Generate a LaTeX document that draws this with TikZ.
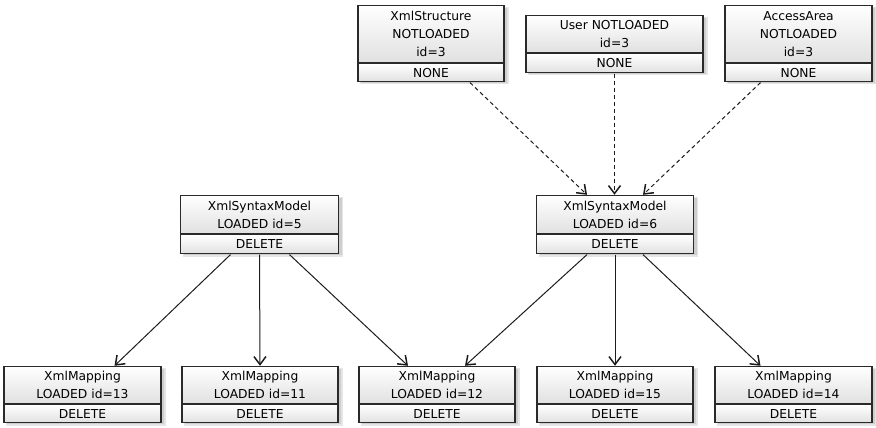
\documentclass[tikz,border=0pt]{standalone}
\usepackage{fontspec}
\setmainfont{DejaVu Sans}
\usetikzlibrary{arrows.meta,fit}
\definecolor{edge}{HTML}{2A2A2A}
\definecolor{wire}{HTML}{1C1C1C}
\tikzset{
  comp/.style={rectangle, draw=edge, line width=1.2pt, top color=white, bottom color=black!12,
    inner sep=0pt, align=center, anchor=north, font=\fontsize{12.3}{18}\selectfont},
  shade1/.style={fill=black, opacity=0.10},
  rel/.style={draw=wire, line width=1pt, -{Straight Barb[length=8pt,width=12pt,line width=1.5pt]}},
  dep/.style={rel, dash pattern=on 4pt off 3pt},
}
% \umlbox{name}{cx}{top}{width}{upper h}{lower h}{upper text}{lower text}
\newcommand{\umlbox}[8]{%
  \fill[shade1] (#2-#4/2+3,#3+3) rectangle (#2+#4/2+3,#3+#5+#6+3);
  \fill[shade1] (#2-#4/2+2,#3+2) rectangle (#2+#4/2+4.5,#3+#5+#6+4.5);
  \node[comp, minimum width=#4pt, minimum height=#5pt] (#1-u) at (#2,#3) {#7};
  \node[comp, minimum width=#4pt, minimum height=#6pt] (#1-l) at (#1-u.south) {#8};
  \node[fit=(#1-u)(#1-l), inner sep=0pt, rectangle] (#1) {};
}
\begin{document}
\begin{tikzpicture}[x=1pt,y=-1pt]
\useasboundingbox (0,0) rectangle (876,428);
% top row
\umlbox{xs}{431}{5}{146}{57}{18}{XmlStructure\\NOTLOADED\\id=3}{NONE}
\umlbox{us}{614.5}{15}{177}{37}{19}{User NOTLOADED\\id=3}{NONE}
\umlbox{aa}{798.5}{5}{147}{57}{18}{AccessArea\\NOTLOADED\\id=3}{NONE}
% middle row
\umlbox{m5}{259.5}{195}{158}{38}{19}{XmlSyntaxModel\\LOADED id=5}{DELETE}
\umlbox{m6}{615}{195}{157}{38}{19}{XmlSyntaxModel\\LOADED id=6}{DELETE}
% bottom row
\umlbox{b13}{82.5}{366}{157}{37}{18}{XmlMapping\\LOADED id=13}{DELETE}
\umlbox{b11}{260}{366}{156}{37}{18}{XmlMapping\\LOADED id=11}{DELETE}
\umlbox{b12}{437}{366}{156}{37}{18}{XmlMapping\\LOADED id=12}{DELETE}
\umlbox{b15}{615}{366}{156}{37}{18}{XmlMapping\\LOADED id=15}{DELETE}
\umlbox{b14}{793.5}{366}{157}{37}{18}{XmlMapping\\LOADED id=14}{DELETE}
% dashed dependencies
\draw[dep] ([xshift=39pt]xs.south) -- ([xshift=-28pt]m6.north);
\draw[dep] (us.south) -- (us.south |- m6.north);
\draw[dep] ([xshift=-38pt]aa.south) -- ([xshift=28pt]m6.north);
% solid relations
\draw[rel] ([xshift=-29pt]m5.south) -- ([xshift=32pt]b13.north);
\draw[rel] (m5.south) -- (b11.north);
\draw[rel] ([xshift=30pt]m5.south) -- ([xshift=-29pt]b12.north);
\draw[rel] ([xshift=-28pt]m6.south) -- ([xshift=28pt]b12.north);
\draw[rel] (m6.south) -- (b15.north);
\draw[rel] ([xshift=28pt]m6.south) -- ([xshift=-33pt]b14.north);
\end{tikzpicture}
\end{document}
